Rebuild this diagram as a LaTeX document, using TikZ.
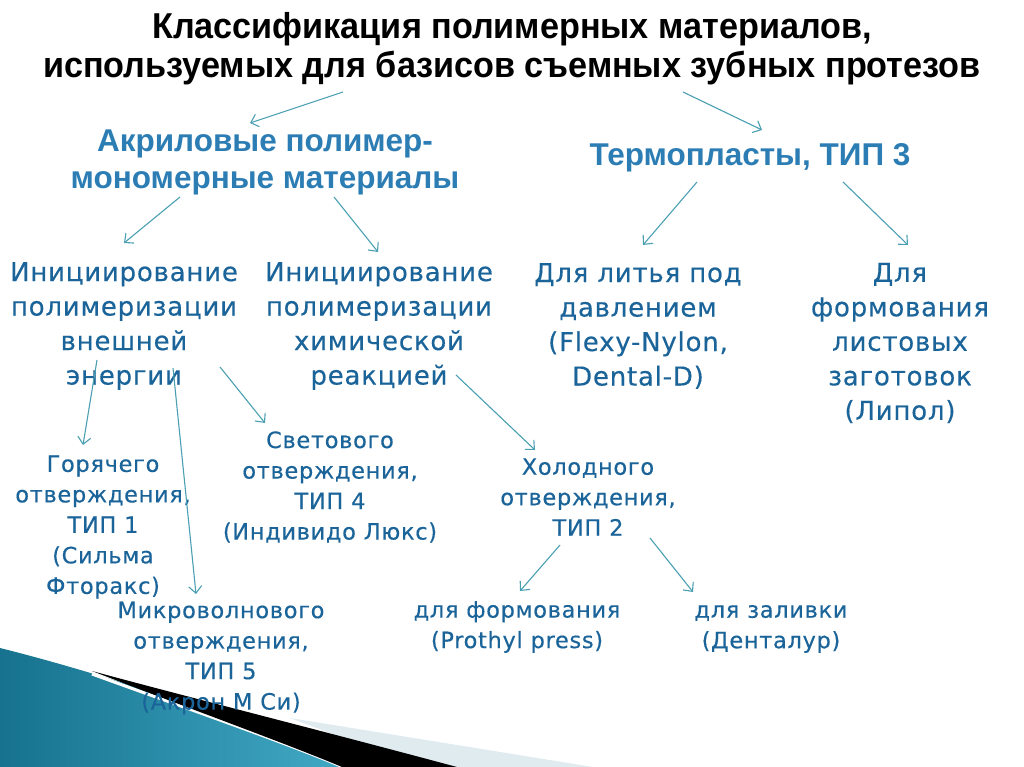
\documentclass[tikz,border=0pt]{standalone}
\usepackage{fontspec}
\setmainfont{DejaVu Sans}
\newfontfamily\bodyfont{DejaVu Sans}[LetterSpace=3, FakeBold=0.4]
\newfontfamily\headfont{Liberation Sans}
\newfontfamily\titlefont{Liberation Sans}[FakeStretch=0.95]
\usetikzlibrary{arrows.meta}

\definecolor{textblue}{HTML}{1B6499}
\definecolor{headblue}{HTML}{2C7DB4}
\definecolor{arrowteal}{HTML}{4A9FB2}
\definecolor{tealdark}{HTML}{16728E}
\definecolor{teallight}{HTML}{46AFCB}
\definecolor{haze}{HTML}{E0EBF0}

\tikzset{
  titletext/.style={font=\titlefont\bfseries\fontsize{36}{39}\selectfont, align=center, inner sep=0pt},
  headtext/.style={font=\headfont\bfseries\fontsize{31.5}{37}\selectfont, text=headblue, align=center, inner sep=0pt},
  bigtext/.style={font=\bodyfont\fontsize{26}{34.5}\selectfont, text=textblue, align=center, inner sep=0pt},
  smalltext/.style={font=\bodyfont\fontsize{22.5}{30.5}\selectfont, text=textblue, align=center, inner sep=0pt},
  arr/.style={-{Straight Barb[length=7pt,width=13pt]}, arrowteal, line width=1.1pt}
}

\begin{document}
\begin{tikzpicture}[x=1pt, y=-1pt]
  \useasboundingbox (0,0) rectangle (1024,767);

  % Decoration in the lower left corner
  \fill[haze] (290,718) -- (593,767) -- (420,767) -- cycle;
  \shade[left color=tealdark, right color=teallight]
    (0,648) .. controls (120,678) and (250,725) .. (380,767) -- (0,767) -- cycle;
  \draw[white, line width=3pt] (92,674) .. controls (180,706) and (290,744) .. (348,769);
  \fill[black] (92,671) .. controls (180,695) and (300,725) .. (457,767) -- (342,767)
    .. controls (290,745) and (180,705) .. (92,671) -- cycle;

  % Title
  \node[titletext] (title) at (512,49) {Классификация полимерных материалов,\\используемых для базисов съемных зубных протезов};

  % Main groups
  \node[headtext] (acryl) at (265,162) {Акриловые полимер-\\мономерные материалы};
  \node[headtext] (thermo) at (750,158) {Термопласты, ТИП 3};

  % Subgroups
  \node[bigtext] (extinit) at (124,326) {Инициирование\\полимеризации\\внешней\\энергии};
  \node[bigtext] (chminit) at (379,326) {Инициирование\\полимеризации\\химической\\реакцией};
  \node[bigtext] (casting) at (638,326) {Для литья под\\давлением\\(Flexy-Nylon,\\Dental-D)};
  \node[bigtext] (sheets) at (900,343) {Для\\формования\\листовых\\заготовок\\(Липол)};

  % Curing types
  \node[smalltext] (hotcure) at (103,527) {Горячего\\отверждения,\\ТИП 1\\(Сильма\\Фторакс)};
  \node[smalltext] (lightcure) at (330,487) {Светового\\отверждения,\\ТИП 4\\(Индивидо Люкс)};
  \node[smalltext] (coldcure) at (588,497) {Холодного\\отверждения,\\ТИП 2};
  \node[smalltext] (microcure) at (221,658) {Микроволнового\\отверждения,\\ТИП 5\\(Акрон М Си)};
  \node[smalltext] (pressform) at (517,627) {для формования\\(Prothyl press)};
  \node[smalltext] (pouring) at (771,629) {для заливки\\(Денталур)};

  % Arrows
  \draw[arr] ([shift={(-169,43)}]title.center) -- ([shift={(-15,-39)}]acryl.center);
  \draw[arr] ([shift={(171,43)}]title.center) -- ([shift={(12,-28)}]thermo.center);
  \draw[arr] ([shift={(-85,35)}]acryl.center) -- ([shift={(0,-83)}]extinit.center);
  \draw[arr] ([shift={(69,35)}]acryl.center) -- ([shift={(-1,-74)}]chminit.center);
  \draw[arr] ([shift={(-53,24)}]thermo.center) -- ([shift={(5,-81)}]casting.center);
  \draw[arr] ([shift={(93,24)}]thermo.center) -- ([shift={(8,-98)}]sheets.center);
  \draw[arr] ([shift={(-27,34)}]extinit.center) -- ([shift={(-20,-82)}]hotcure.center);
  \draw[arr] ([shift={(49,42)}]extinit.center) -- ([shift={(-25,-64)}]microcure.center);
  \draw[arr] ([shift={(96,41)}]extinit.center) -- ([shift={(-65,-64)}]lightcure.center);
  \draw[arr] ([shift={(77,49)}]chminit.center) -- ([shift={(-53,-47)}]coldcure.center);
  \draw[arr] ([shift={(-28,48)}]coldcure.center) -- ([shift={(3,-36)}]pressform.center);
  \draw[arr] ([shift={(62,41)}]coldcure.center) -- ([shift={(-78,-37)}]pouring.center);
\end{tikzpicture}
\end{document}
